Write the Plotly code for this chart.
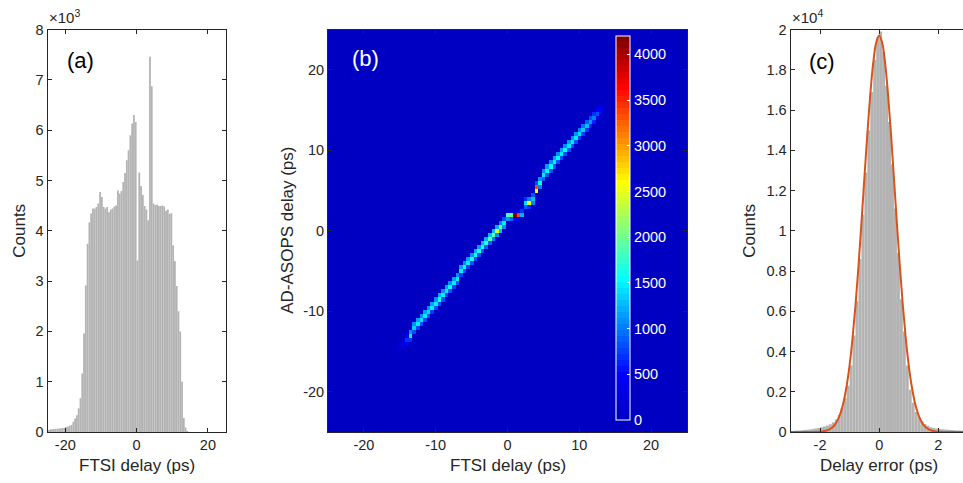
import numpy as np
import plotly.graph_objects as go

W, H = 963, 483
FONT = "Liberation Sans, Arial, sans-serif"
TXT = "#262626"

# ---------------- panel (a): FTSI delay histogram ----------------
a_bin_start = -25.0
a_bin_width = 0.5
a_counts = [
    40, 50, 55, 60, 65, 65, 70, 75, 80, 85, 100, 110, 125,
    140, 205, 270, 335, 470, 670, 1165, 1960, 2910, 3740, 4170, 4345,
    4440, 4440, 4470, 4540, 4770, 4670, 4470, 4440, 4470, 4370, 4420,
    4440, 4480, 4500, 4800, 4740, 4790, 4970, 5150, 5400, 5600, 5900,
    6130, 6300, 6160,
    3410, 5160, 4890, 4710, 4490, 4420, 4210, 7460, 6870, 4540, 4510,
    4520, 4490, 4490, 4500, 4480, 4400, 4420, 4340, 4350, 3710, 3400,
    2900, 2400, 2000, 1000, 280, 90, 20,
    0, 0, 0, 0, 0, 0, 0, 0, 0, 0, 0, 0, 0, 0, 0, 0, 0, 0, 0, 0, 0,
]
a_xticks = [-20, 0, 20]
a_xticklabels = ["-20", "0", "20"]
a_yticks = [0, 1000, 2000, 3000, 4000, 5000, 6000, 7000, 8000]
a_yticklabels = ["0", "1", "2", "3", "4", "5", "6", "7", "8"]

# ---------------- panel (b): 2D histogram ridge ----------------
ridge_x = [-16.0, -15.5, -15.0, -14.5, -14.0, -13.5, -13.0, -12.5, -12.0, -11.5,
           -11.0, -10.5, -10.0, -9.5, -9.0, -8.5, -8.0, -7.5, -7.0, -6.5,
           -6.0, -5.5, -5.0, -4.5, -4.0, -3.5, -3.0, -2.5, -2.0, -1.5,
           -1.0, -0.5, 0.0, 0.5, 1.0, 1.5, 2.0, 2.5, 3.0, 3.5,
           4.0, 4.5, 5.0, 5.5, 6.0, 6.5, 7.0, 7.5, 8.0, 8.5,
           9.0, 9.5, 10.0, 10.5, 11.0, 11.5, 12.0, 12.5, 13.0, 13.5]
ridge_y = [-15.5, -15.0, -14.5, -14.0, -13.5, -13.0, -12.0, -11.5, -11.0, -10.5,
           -10.0, -9.5, -9.0, -8.5, -8.0, -7.5, -7.0, -6.5, -6.0, -5.0,
           -4.5, -4.0, -3.5, -3.0, -2.5, -2.0, -1.5, -1.0, -0.5, 0.0,
           0.5, 1.0, 2.0, 2.0, 2.0, 2.0, 2.0, 3.5, 3.5, 4.0,
           5.5, 6.0, 7.0, 7.5, 8.0, 8.5, 9.0, 9.5, 10.0, 10.5,
           11.0, 11.5, 12.0, 12.5, 13.0, 13.5, 14.0, 14.5, 15.0, 15.5]
ridge_lo = [20, 40, 80, 150, 300, 700, 800, 750, 800, 750,
            800, 750, 800, 800, 800, 750, 800, 750, 800, 750,
            800, 750, 800, 800, 850, 800, 900, 900, 1000, 1100,
            1300, 1100, 1100, 900, 400, 300, 0, 900, 700, 1000,
            2600, 1000, 900, 850, 850, 800, 850, 800, 850, 800,
            800, 800, 750, 750, 700, 650, 600, 450, 250, 60]
ridge_mid = [60, 110, 200, 380, 700, 1500, 1350, 1450, 1400, 1500,
             1400, 1500, 1450, 1700, 1500, 1450, 1550, 1450, 1500, 1450,
             1550, 1500, 1600, 1550, 1650, 1600, 1750, 1850, 1950, 2400,
             2000, 1500, 1900, 1950, 4150, 3400, 1200, 1400, 2500, 1300,
             3400, 1600, 1500, 1550, 1550, 1500, 1550, 1500, 1550, 1500,
             1450, 1450, 1400, 1350, 1250, 1150, 1000, 850, 450, 120]
ridge_hi = [20, 50, 90, 180, 450, 1100, 1050, 1150, 1050, 1150,
            1050, 1150, 1100, 1200, 1050, 1150, 1100, 1150, 1050, 1150,
            1100, 1150, 1100, 1200, 1150, 1200, 1200, 1300, 1300, 1200,
            1000, 800, 300, 200, 200, 300, 700, 700, 1000, 800,
            800, 1100, 1100, 1150, 1100, 1150, 1100, 1150, 1100, 1150,
            1100, 1050, 1000, 950, 900, 800, 700, 500, 250, 60]
b_ticks = [-20, -10, 0, 10, 20]
b_ticklabels = ["-20", "-10", "0", "10", "20"]
cbar_ticks = [0, 500, 1000, 1500, 2000, 2500, 3000, 3500, 4000]

# ---------------- panel (c): delay error histogram + fit ----------------
c_bin_start = -3.0
c_bin_width = 0.1
c_counts = [55, 60, 70, 80, 95, 110, 130, 150, 170, 200,
            230, 270, 320, 380, 480, 620, 850, 1200, 1700, 2300,
            3300, 4800, 6500, 8600, 10800, 12900, 15000, 16900, 18500, 19600,
            19900, 18900, 17200, 15400, 13300, 11100, 8900, 6600, 5000, 3300,
            2100, 1450, 1000, 720, 540, 400, 310, 240, 200, 170,
            150, 135, 120, 110, 100, 90, 80, 70, 60, 55]
fit_x = [-3.0, -2.0, -1.9, -1.8, -1.7, -1.6, -1.5, -1.4, -1.3, -1.2, -1.1,
         -1.0, -0.9, -0.8, -0.7, -0.6, -0.5, -0.4, -0.3, -0.2, -0.1, 0.0,
         0.1, 0.2, 0.3, 0.4, 0.5, 0.6, 0.7, 0.8, 0.9, 1.0,
         1.1, 1.2, 1.3, 1.4, 1.5, 1.6, 1.7, 1.8, 1.9, 2.0, 3.0]
fit_y = [0, 16, 32, 62, 115, 207, 359, 601, 973, 1518, 2285,
         3320, 4660, 6310, 8235, 10380, 12620, 14820, 16780, 18350, 19350, 19700,
         19350, 18350, 16780, 14820, 12620, 10380, 8235, 6310, 4660, 3320,
         2285, 1518, 973, 601, 359, 207, 115, 62, 32, 16, 0]
c_xticks = [-2, 0, 2]
c_xticklabels = ["-2", "0", "2"]
c_yticks = [0, 2000, 4000, 6000, 8000, 10000, 12000, 14000, 16000, 18000, 20000]
c_yticklabels = ["0", "0.2", "0.4", "0.6", "0.8", "1", "1.2", "1.4", "1.6", "1.8", "2"]


# ---------------- helpers ----------------
def jet(m=64):
    n = int(np.ceil(m / 4))
    u = np.concatenate([np.arange(1, n + 1) / n, np.ones(n - 1), np.arange(n, 0, -1) / n])
    g = int(np.ceil(n / 2)) - (1 if m % 4 == 1 else 0) + np.arange(1, len(u) + 1)
    r = g + n
    b = g - n
    J = np.zeros((m, 3))
    for arr, col in ((r, 0), (g, 1), (b, 2)):
        mask = (arr >= 1) & (arr <= m)
        J[arr[mask] - 1, col] = u[mask]
    return J


J = jet(64)
# the exported figure renders the dark-blue end of jet somewhat brighter
dark = (J[:, 0] == 0) & (J[:, 1] == 0)
J[dark, 2] = 0.45 + 0.55 * J[dark, 2]
colorscale = []
for i, c in enumerate(J):
    rgb = "rgb(%d,%d,%d)" % tuple(int(round(v * 255)) for v in c)
    colorscale.append([i / 64, rgb])
    colorscale.append([(i + 1) / 64, rgb])


def px_x(p):
    return p / W


def px_y(p):
    return 1 - p / H


a_centers = [a_bin_start + a_bin_width * (i + 0.5) for i in range(len(a_counts))]
c_centers = [c_bin_start + c_bin_width * (i + 0.5) for i in range(len(c_counts))]

grid = np.round(np.arange(-25.0, 25.001, 0.5), 2)
z = np.zeros((len(grid), len(grid)))
for xc, yc, lo, mid, hi in zip(ridge_x, ridge_y, ridge_lo, ridge_mid, ridge_hi):
    i = int(round((xc + 25) / 0.5))
    j = int(round((yc + 25) / 0.5))
    z[j - 1, i] += lo
    z[j, i] += mid
    z[j + 1, i] += hi

fig = go.Figure()
fig.add_trace(go.Bar(x=a_centers, y=a_counts, width=a_bin_width,
                     marker=dict(color="#b3b3b3", line=dict(width=0)),
                     xaxis="x", yaxis="y", showlegend=False))
fig.add_trace(go.Heatmap(x=grid, y=grid, z=z, zmin=0, zmax=4200,
                         colorscale=colorscale, xaxis="x2", yaxis="y2",
                         colorbar=dict(x=px_x(615.5), xanchor="left", xpad=0,
                                       y=px_y(228), yanchor="middle", ypad=0,
                                       len=384, lenmode="pixels",
                                       thickness=14, thicknessmode="pixels",
                                       outlinewidth=1, outlinecolor="white",
                                       tickvals=cbar_ticks, ticks="inside",
                                       ticklen=3, tickcolor="white",
                                       tickfont=dict(color="white", size=14.5, family=FONT))))
fig.add_trace(go.Bar(x=c_centers, y=c_counts, width=c_bin_width,
                     marker=dict(color="#b3b3b3", line=dict(width=0)),
                     xaxis="x3", yaxis="y3", showlegend=False))
fig.add_trace(go.Scatter(x=fit_x, y=fit_y, mode="lines",
                         line=dict(color="#D95319", width=2, shape="spline"),
                         xaxis="x3", yaxis="y3", showlegend=False))

top, bot = 29.5, 432
ydom = [px_y(bot), px_y(top)]
common = dict(showline=True, linecolor=TXT, linewidth=1, ticks="inside",
              ticklen=4, tickcolor=TXT, showgrid=False, zeroline=False,
              automargin=False,
              tickfont=dict(size=14.5, color=TXT, family=FONT))

fig.update_layout(
    template="none",
    width=W, height=H, margin=dict(l=0, r=0, t=0, b=0, pad=0, autoexpand=False),
    paper_bgcolor="white", plot_bgcolor="white",
    font=dict(family=FONT, color=TXT),
    xaxis=dict(domain=[px_x(47.5), px_x(225.7)], range=[-25, 25], anchor="y",
               tickvals=a_xticks, ticktext=a_xticklabels, mirror="ticks", **common),
    yaxis=dict(domain=ydom, range=[0, 8000], anchor="x",
               tickvals=a_yticks, ticktext=a_yticklabels, mirror="ticks", **common),
    xaxis2=dict(domain=[px_x(328), px_x(687)], range=[-25, 25], anchor="y2",
                tickvals=b_ticks, ticktext=b_ticklabels, mirror="ticks", **common),
    yaxis2=dict(domain=ydom, range=[-25, 25], anchor="x2",
                tickvals=b_ticks, ticktext=b_ticklabels, mirror="ticks", **common),
    xaxis3=dict(domain=[px_x(790.5), 1.0], range=[-3, 2.837], anchor="y3",
                tickvals=c_xticks, ticktext=c_xticklabels, mirror="ticks", **common),
    yaxis3=dict(domain=ydom, range=[0, 20000], anchor="x3",
                tickvals=c_yticks, ticktext=c_yticklabels, mirror=False, **common),
)

ann = []
def add_text(text, x, y, size=17, color=TXT, angle=0, xanchor="center", yanchor="middle"):
    ann.append(dict(text=text, x=px_x(x), y=px_y(y), xref="paper", yref="paper",
                    showarrow=False, textangle=angle, xanchor=xanchor, yanchor=yanchor,
                    font=dict(size=size, color=color, family=FONT)))

add_text("Counts", 20, 230.75, angle=-90)
add_text("FTSI delay (ps)", 136.7, 465)
add_text("AD-ASOPS delay (ps)", 288, 230.75, angle=-90)
add_text("FTSI delay (ps)", 507.7, 465)
add_text("Counts", 750, 230.75, angle=-90)
add_text("Delay error (ps)", 879.3, 465)
add_text("(a)", 80, 60.5, size=22, color="black")
add_text("(b)", 365, 58, size=22, color="white")
add_text("(c)", 822, 61, size=22, color="black")
add_text("×10<sup>3</sup>", 47, 28, size=15, xanchor="left", yanchor="bottom")
add_text("×10<sup>4</sup>", 790, 28, size=15, xanchor="left", yanchor="bottom")
fig.update_layout(annotations=ann)

fig.write_html("out.html", config={"displayModeBar": False, "staticPlot": True},
               post_script="document.body.style.margin='0';document.body.style.overflow='hidden';")
